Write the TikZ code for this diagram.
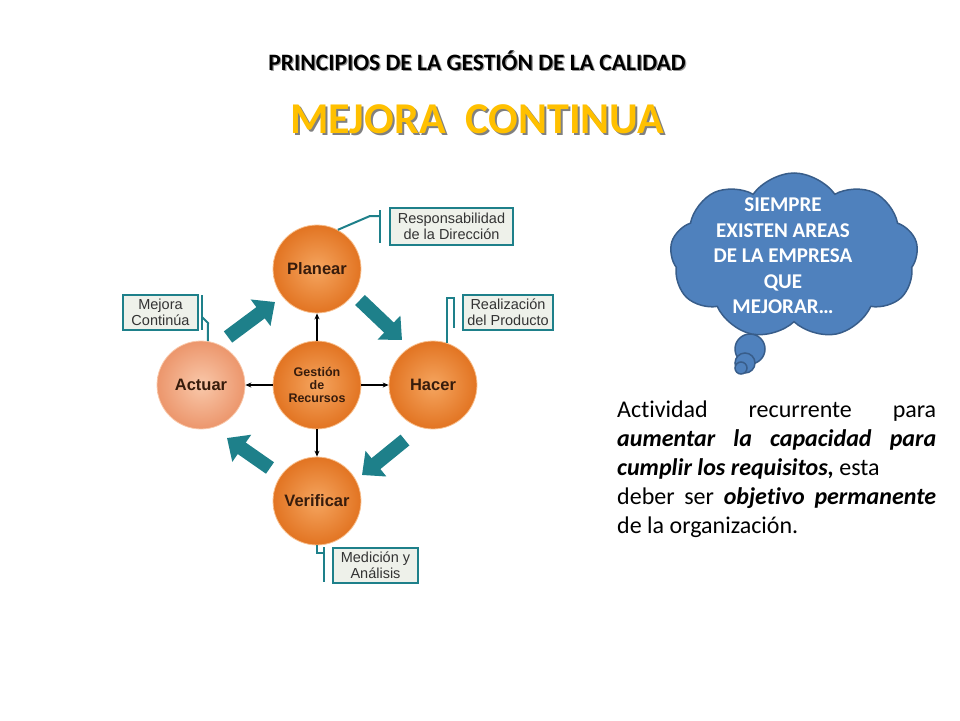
\documentclass[tikz,border=0pt]{standalone}
\usepackage{fontspec}
\setmainfont[Ligatures=NoCommon]{Carlito}
\newfontfamily\arialfont{Liberation Sans}
\usepackage{xcolor}
\usepackage{tikz}
\usetikzlibrary{arrows.meta, positioning, shapes.symbols, calc}
\definecolor{tealarrow}{RGB}{30,128,138}
\definecolor{tagfill}{RGB}{238,241,234}
\definecolor{pdcaorange}{RGB}{226,116,34}
\definecolor{pdcalight}{RGB}{245,165,95}
\definecolor{actuarouter}{RGB}{236,150,108}
\definecolor{actuarinner}{RGB}{249,200,170}
\definecolor{cloudblue}{RGB}{79,129,189}
\definecolor{cloudline}{RGB}{56,93,138}
\definecolor{titleyellow}{RGB}{255,192,0}
\definecolor{phasetext}{RGB}{55,28,12}
\tikzstyle{phase} = [circle, minimum size=88pt, inner sep=0pt, inner color=pdcalight, outer color=pdcaorange, draw=pdcalight!70!white, line width=0.8pt, text=phasetext, font=\arialfont\fontsize{16.5}{18}\selectfont\bfseries]
\tikzstyle{tag} = [rectangle, draw=tealarrow, line width=2pt, fill=tagfill, align=center, inner sep=0pt, text=black!80, font=\arialfont\fontsize{14.5}{16}\selectfont]
\tikzstyle{tagline} = [draw=tealarrow, line width=2pt]
\tikzstyle{flow} = [draw=tealarrow, line width=14pt, -{Triangle[length=18pt,width=32pt]}]
\tikzstyle{feed} = [line width=1.3pt, -{Stealth[length=6pt,width=5pt]}]
\tikzstyle{bubble} = [circle, fill=cloudblue, draw=cloudline, line width=1.5pt, inner sep=0pt]

\begin{document}
\begin{tikzpicture}[x=1pt, y=-1pt, node distance=116pt]
\useasboundingbox (0,0) rectangle (960,720);

% titles
\node (titleshadow) [anchor=base, text=black!40, font=\fontsize{23.5}{26}\selectfont\bfseries] at (478.2,71.2) {PRINCIPIOS DE LA GESTIÓN DE LA CALIDAD};
\node (title) [anchor=base, font=\fontsize{23.5}{26}\selectfont\bfseries] at (477,70) {PRINCIPIOS DE LA GESTIÓN DE LA CALIDAD};
\node (mejorashadow) [anchor=base, text=black!50, font=\fontsize{44}{48}\selectfont\bfseries] at (479,135) {MEJORA\ \ CONTINUA};
\node (mejora) [anchor=base, text=titleyellow, font=\fontsize{44}{48}\selectfont\bfseries] at (477,133) {MEJORA\ \ CONTINUA};

% PHVA cycle
\node (gestion) [phase, align=center, font=\arialfont\fontsize{12.5}{13.3}\selectfont\bfseries] at (317,385) {Gestión\\de\\Recursos};
\node (planear) [phase, above of=gestion] {Planear};
\node (hacer) [phase, right of=gestion] {Hacer};
\node (verificar) [phase, below of=gestion] {Verificar};
\node (actuar) [phase, left of=gestion, inner color=actuarinner, outer color=actuarouter, draw=actuarinner] {Actuar};

\draw [feed] (gestion) -- (planear);
\draw [feed] (gestion) -- (hacer);
\draw [feed] (gestion) -- (verificar);
\draw [feed] (gestion) -- (actuar);

\draw [flow] ($(actuar)+(27,-48)$) -- ($(planear)+(-42,33)$);
\draw [flow] ($(planear)+(43,31)$) -- ($(hacer)+(-31,-45)$);
\draw [flow] ($(hacer)+(-28,55)$) -- ($(verificar)+(45,-26)$);
\draw [flow] ($(verificar)+(-47,-33)$) -- ($(actuar)+(26,53)$);

% labels
\node (direccion) [tag, minimum width=123pt, minimum height=37pt] at (451.5,226.5) {Responsabilidad\\de la Dirección};
\node (producto) [tag, minimum width=90pt, minimum height=35pt] at (508,312.5) {Realización\\del Producto};
\node (continua) [tag, minimum width=75pt, minimum height=35pt] at (160.5,312.5) {Mejora\\Continúa};
\node (analisis) [tag, minimum width=85pt, minimum height=35pt] at (375.5,565.5) {Medición y\\Análisis};

\coordinate (bend1) at (370,216);
\coordinate (bar1) at (380,216);
\coordinate (bar2) at (454,298);
\coordinate (bend3) at (208,323);
\coordinate (bar3) at (202,317);
\coordinate (bar4) at (324,553);
\draw [tagline] (planear.62) -- (bend1) -- (bar1);
\draw [tagline] ([yshift=6pt]bar1) -- ([yshift=-27pt]bar1);
\draw [tagline] (hacer.71) |- (bar2);
\draw [tagline] ([yshift=1pt]bar2) -- ([yshift=-30pt]bar2);
\draw [tagline] (actuar.81) -- (bend3) -- (bar3);
\draw [tagline] ([yshift=22pt]bar3) -- ([yshift=-13pt]bar3);
\draw [tagline] (verificar.south) |- (bar4);
\draw [tagline] ([yshift=6pt]bar4) -- ([yshift=-29pt]bar4);

% thought cloud
\node (bubble1) [bubble, minimum size=30pt] at (750,349) {};
\node (bubble2) [bubble, minimum size=20pt] at (745,363) {};
\node (bubble3) [bubble, minimum size=12pt] at (741,368) {};
\node (cloud) [cloud, cloud puffs=9, cloud puff arc=110, cloud ignores aspect, minimum width=248pt, minimum height=166pt, fill=cloudblue, draw=cloudline, line width=1.5pt] at (794,256) {};
\node (cloudtext) [align=center, text=white, font=\fontsize{21}{25.5}\selectfont\bfseries] at (783,256) {SIEMPRE\\EXISTEN AREAS\\DE LA EMPRESA\\QUE\\MEJORAR…};

% text
\node (texto) [anchor=north west, inner sep=0pt, text width=319pt, align=justify, font=\fontsize{24}{28.8}\selectfont] at (617,401) {\sloppy Actividad recurrente para\linebreak \textbf{\textit{aumentar la capacidad para}}\linebreak \textbf{\textit{cumplir los requisitos,}} esta\\ deber ser \textbf{\textit{objetivo permanente}}\linebreak de la organización.};
\end{tikzpicture}
\end{document}
